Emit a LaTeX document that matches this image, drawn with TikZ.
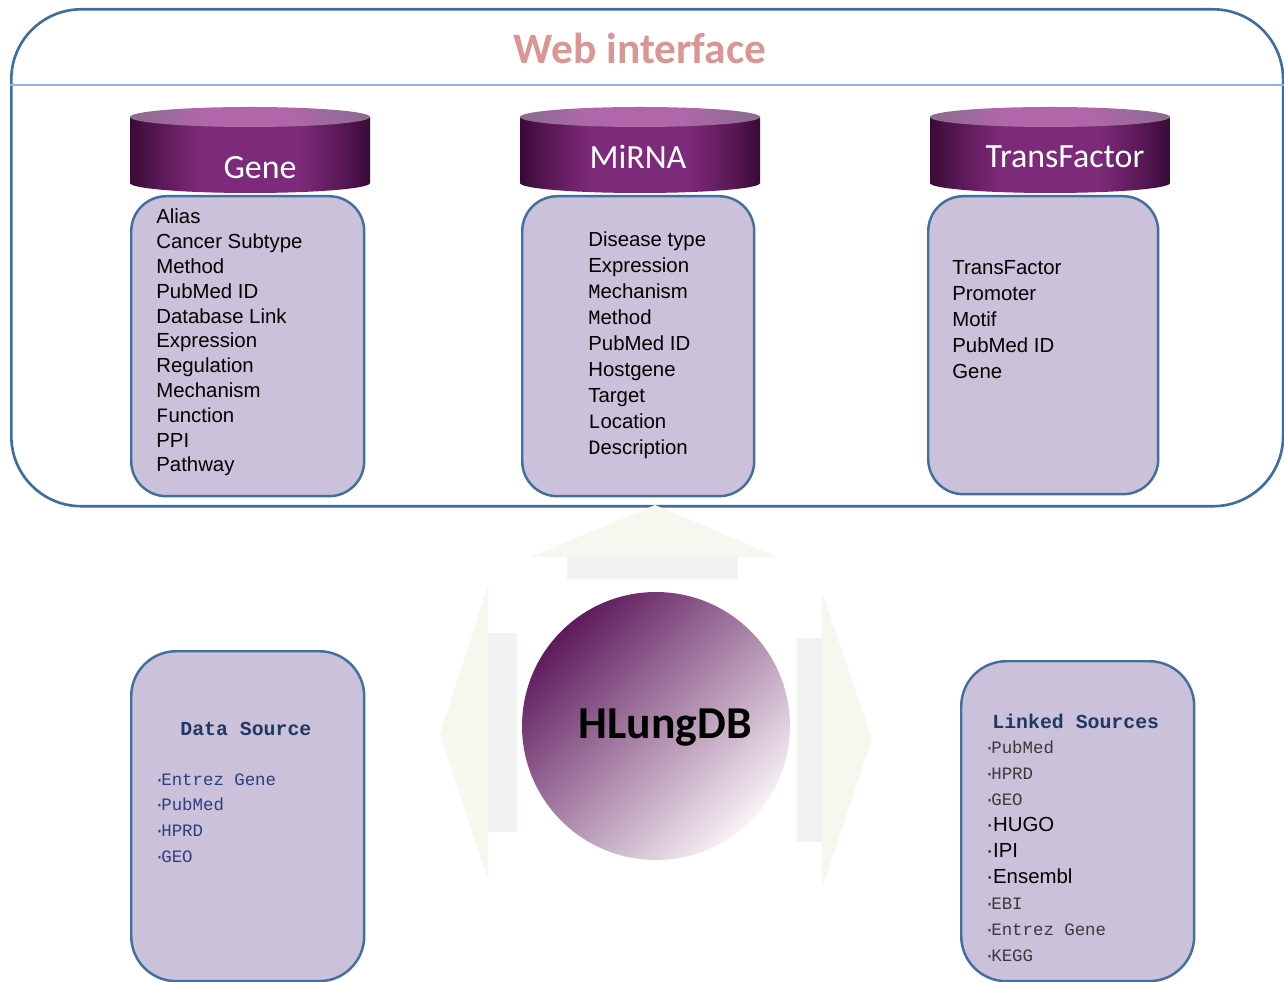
\documentclass[tikz,border=0pt]{standalone}
\usepackage{fontspec}
\setmainfont{Liberation Sans}
\newfontfamily\calibri{Carlito}
\newfontfamily\simmono{Liberation Mono}

\definecolor{frameblue}{HTML}{3F6D9E}
\definecolor{sepblue}{HTML}{8EB4E3}
\definecolor{titlepink}{HTML}{D99694}
\definecolor{lav}{HTML}{CCC1DA}
\definecolor{boxborder}{HTML}{41709E}
\definecolor{navy}{HTML}{1F3864}
\definecolor{srcblue}{HTML}{2B3F80}
\definecolor{srcgray}{HTML}{3A3A3A}
\definecolor{cylA}{HTML}{3A0A36}
\definecolor{cylB}{HTML}{5A1856}
\definecolor{cylC}{HTML}{7E2A7A}
\definecolor{capA}{HTML}{8A6C90}
\definecolor{capB}{HTML}{B067A9}
\definecolor{headfill}{HTML}{F8F7EF}
\definecolor{shaftfill}{HTML}{F1F3F1}
\definecolor{hubA}{HTML}{5E1A5C}
\definecolor{hubB}{HTML}{8C5A8C}
\definecolor{hubC}{HTML}{F8F2F6}

% side of a database cylinder, dark at both ends
\pgfdeclarehorizontalshading{cylbody}{100bp}{color(0bp)=(cylA); color(25bp)=(cylA);
  color(31bp)=(cylB); color(40bp)=(cylC); color(60bp)=(cylC); color(69bp)=(cylB);
  color(75bp)=(cylA); color(100bp)=(cylA)}
% lid of a database cylinder
\pgfdeclarehorizontalshading{cyltop}{100bp}{color(0bp)=(capA); color(25bp)=(capA);
  color(40bp)=(capB); color(58bp)=(capB); color(75bp)=(capA); color(100bp)=(capA)}

\tikzset{
  box/.style={draw=boxborder, line width=1.4pt, fill=lav, inner sep=0pt, anchor=north west},
  cyllabel/.style={text=white, font=\calibri\fontsize{19.3}{22}\selectfont, inner sep=0pt},
  item/.style={anchor=base west, inner sep=0pt, font=\fontsize{11.6}{13}\selectfont},
  srctitle/.style={anchor=base west, inner sep=0pt, text=navy, font=\simmono\bfseries\fontsize{11.3}{13}\selectfont},
  srcitem/.style={anchor=base west, inner sep=0pt, font=\simmono\fontsize{9.9}{11}\selectfont},
  blockarrow/.style={fill=headfill, draw=none},
  blockshaft/.style={fill=shaftfill, draw=none},
}

% database cylinder whose left side is at x = #1
\newcommand\dbcyl[1]{%
  \shade[shading=cylbody] (#1,-117) -- (#1,-183)
    arc[start angle=180, end angle=360, x radius=120, y radius=10]
    -- (#1+240,-117) -- cycle;
  \shade[shading=cyltop] (#1+120,-117) ellipse[x radius=120, y radius=10];
}
% small bullet set tight against the following word
\newcommand\tightdot{·\kern-0.2em}

\begin{document}
\begin{tikzpicture}[x=0.02cm, y=0.02cm]
\useasboundingbox (0,0) rectangle (1284,-982);
\fill[white] (0,0) rectangle (1284,-982);

% ---------- web interface frame ----------
\node[draw=frameblue, line width=1.5pt, rounded corners=1.4cm, inner sep=0pt,
      minimum width=25.44cm, minimum height=9.94cm, anchor=north west] (web) at (10,-8) {};
\coordinate (sepy) at (0,-85);
\draw[sepblue, line width=0.9pt] (web.west |- sepy) -- (web.east |- sepy);
\node[text=titlepink, font=\calibri\bfseries\fontsize{24.7}{28}\selectfont] (title) at (640,-48) {Web interface};

% ---------- table boxes ----------
\node[box, rounded corners=0.7cm, minimum width=4.66cm, minimum height=6.0cm] (genebox) at (130,-195) {};
\node[box, rounded corners=0.7cm, minimum width=4.64cm, minimum height=6.0cm] (mirbox) at (521,-195) {};
\node[box, rounded corners=0.7cm, minimum width=4.60cm, minimum height=5.96cm] (tfbox) at (927,-195) {};

% ---------- cylinders ----------
\dbcyl{130}
\dbcyl{520}
\dbcyl{930}
\node[cyllabel] (genelabel) at (260,-168) {Gene};
\node[cyllabel] (mirlabel) at (638,-157) {MiRNA};
\node[cyllabel] (tflabel) at (1065,-157) {TransFactor};

% ---------- field lists ----------
\foreach \t [count=\i from 0] in {Alias, Cancer Subtype, Method, PubMed ID, Database Link,
    Expression, Regulation, Mechanism, {{\simmono F}unction}, PPI, Pathway}
  \node[item] (gene-\i) at (156,-224-24.8*\i) {\t};
\foreach \t [count=\i from 0] in {Disease type, Expression, {{\simmono M}echanism},
    {{\simmono M}ethod}, PubMed ID, Hostgene, Target, {{\simmono L}ocation}, {{\simmono D}escription}}
  \node[item] (mir-\i) at (588,-247-26*\i) {\t};
\foreach \t [count=\i from 0] in {TransFactor, Promoter, Motif, PubMed ID, Gene}
  \node[item] (tf-\i) at (952,-275-26*\i) {\t};

% ---------- block arrows around the hub ----------
\path[blockshaft] (567,-557) rectangle (738,-579);
\path[blockarrow] (530,-557) -- (655,-505) -- (778,-557) -- cycle;
\path[blockshaft] (488,-633) rectangle (517,-832);
\path[blockarrow] (488,-585) -- (440,-735) -- (488,-880) -- cycle;
\path[blockshaft] (797,-638) rectangle (822,-842);
\path[blockarrow] (822,-593) -- (872,-738) -- (822,-888) -- cycle;

% ---------- hub ----------
\node[circle, minimum size=5.36cm, inner sep=0pt, top color=hubA, middle color=hubB,
      bottom color=hubC, shading angle=45] (hub) at (656,-726) {};
\node[font=\calibri\bfseries\fontsize{26}{30}\selectfont] (hubtext) at (665,-728) {HLungDB};

% ---------- data source box ----------
\node[box, rounded corners=0.9cm, minimum width=4.66cm, minimum height=6.6cm] (srcbox) at (130,-650) {};
\node[srctitle] (srchead) at (180,-735) {Data Source};
\foreach \t [count=\i from 0] in {Entrez Gene, PubMed, HPRD, GEO}
  \node[srcitem, text=srcblue] (src-\i) at (154,-785-25.7*\i) {\tightdot\t};

% ---------- linked sources box ----------
\node[box, rounded corners=0.9cm, minimum width=4.66cm, minimum height=6.4cm] (linkbox) at (960,-660) {};
\node[srctitle] (linkhead) at (992,-728) {Linked Sources};
\node[srcitem, text=srcgray] (link-0) at (984,-753) {\tightdot PubMed};
\node[srcitem, text=srcgray] (link-1) at (984,-779) {\tightdot HPRD};
\node[srcitem, text=srcgray] (link-2) at (984,-805) {\tightdot GEO};
\node[item] (link-3) at (986,-831) {·HUGO};
\node[item] (link-4) at (986,-857) {·IPI};
\node[item] (link-5) at (986,-883) {·Ensembl};
\node[srcitem, text=srcgray] (link-6) at (984,-909) {\tightdot EBI};
\node[srcitem, text=srcgray] (link-7) at (984,-935) {\tightdot Entrez Gene};
\node[srcitem, text=srcgray] (link-8) at (984,-961) {\tightdot KEGG};
\end{tikzpicture}
\end{document}
